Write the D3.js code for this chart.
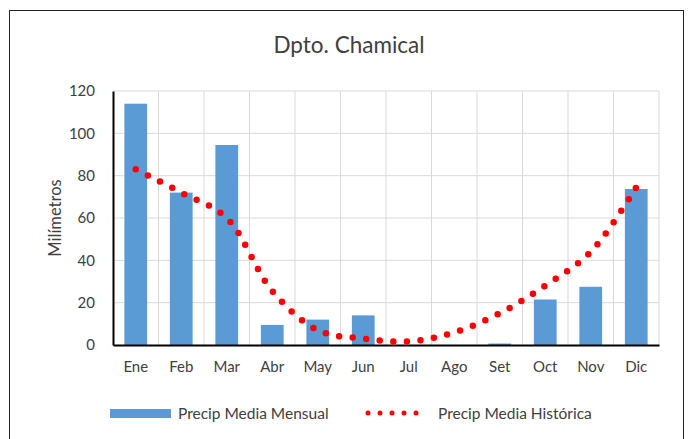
<!DOCTYPE html>
<html><head><meta charset="utf-8">
<script src="https://cdn.jsdelivr.net/npm/d3@7"></script>
<style>body{margin:0;background:#fff}svg{display:block}text{font-family:Lato,"Open Sans",sans-serif;fill:#404040}</style>
</head><body><svg id="c" width="690" height="439"></svg>
<script>
const months = ["Ene","Feb","Mar","Abr","May","Jun","Jul","Ago","Set","Oct","Nov","Dic"];
const mensual = [114, 72, 94.5, 9.5, 12, 14, 0, 0, 0.7, 21.5, 27.5, 73.7];
const historica = [83, 72, 60, 25.5, 7, 3, 1.7, 6, 15, 28, 44, 74.5];
const yTicks = [0,20,40,60,80,100,120];
const title = "Dpto. Chamical";
const yLabel = "Milímetros";
const legendLabels = ["Precip Media Mensual","Precip Media Histórica"];

const svg = d3.select("#c");
svg.append("rect").attr("x",9.5).attr("y",10.5).attr("width",674).attr("height",440).attr("fill","#fff").attr("stroke","#222").attr("stroke-width",1);

const L=113, R=659, T=91, B=345;
const x = d3.scaleBand().domain(months).range([L,R]).paddingInner(0.5).paddingOuter(0.25);
const xc = d3.scaleBand().domain(months).range([L,R]);
const y = d3.scaleLinear().domain([0,120]).range([B,T]);

// gridlines
const g = svg.append("g");
g.selectAll(".hg").data(yTicks.filter(d=>d>0)).join("line")
 .attr("x1",L).attr("x2",R).attr("y1",d=>y(d)).attr("y2",d=>y(d))
 .attr("stroke","#d9d9d9").attr("stroke-width",1);
g.selectAll(".vg").data(months.slice(1).concat(["end"])).join("line")
 .attr("x1",(d,i)=> i<11 ? xc(d) : R).attr("x2",(d,i)=> i<11 ? xc(d) : R)
 .attr("y1",T).attr("y2",B).attr("stroke","#d9d9d9").attr("stroke-width",1);

// bars
svg.append("g").selectAll("rect").data(mensual).join("rect")
 .attr("x",(d,i)=>x(months[i])).attr("width",x.bandwidth())
 .attr("y",d=>y(d)).attr("height",d=>B-y(d)).attr("fill","#5b9bd5");

// axes
const ya = svg.append("g").attr("transform",`translate(${L},0)`)
 .call(d3.axisLeft(y).tickValues(yTicks).tickSize(0).tickPadding(18));
ya.select(".domain").attr("stroke","#000").attr("stroke-width",2);
ya.selectAll("text").style("font-size","15px").attr("fill","#404040").style("font-family","Lato");
const xa = svg.append("g").attr("transform",`translate(0,${B})`)
 .call(d3.axisBottom(xc).tickSize(0).tickPadding(16));
xa.select(".domain").attr("stroke","#000").attr("stroke-width",2);
xa.selectAll("text").style("font-size","15px").attr("fill","#404040").style("font-family","Lato");

// line
const line = d3.line().x((d,i)=>xc(months[i])+xc.bandwidth()/2).y(d=>y(d)).curve(d3.curveCatmullRom.alpha(0.5));
const path = svg.append("path").datum(historica).attr("d",line).attr("fill","none")
 .attr("stroke","#ff0000").attr("stroke-width",6.5).attr("stroke-linecap","round");
const len = path.node().getTotalLength();
const n = Math.round(len / 13.7);
const gap = (len - 1) / n;
path.attr("stroke-dasharray", `0 ${gap}`);

// title
svg.append("text").attr("x",349).attr("y",53).attr("text-anchor","middle").style("font-size","22.5px").text(title);
svg.append("text").attr("transform",`translate(61,${(T+B)/2}) rotate(-90)`).attr("text-anchor","middle").style("font-size","16.5px").text(yLabel);

// legend
svg.append("rect").attr("x",110).attr("y",409).attr("width",61).attr("height",9).attr("fill","#5b9bd5");
svg.append("text").attr("x",178).attr("y",419).style("font-size","15.5px").text(legendLabels[0]);
svg.append("line").attr("x1",368).attr("x2",428).attr("y1",413).attr("y2",413)
 .attr("stroke","#ff0000").attr("stroke-width",5).attr("stroke-linecap","round").attr("stroke-dasharray","0 12");
svg.append("text").attr("x",438).attr("y",419).style("font-size","15.5px").text(legendLabels[1]);
</script></body></html>
